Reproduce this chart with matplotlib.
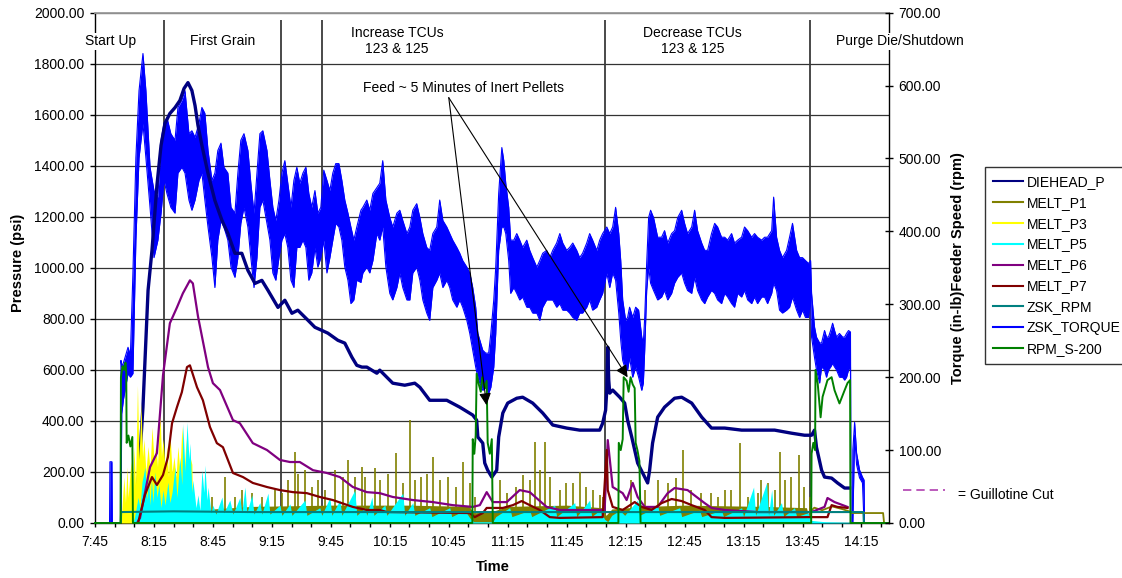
import numpy as np
import matplotlib
matplotlib.use("Agg")
import matplotlib.pyplot as plt
from matplotlib.lines import Line2D

plt.rcParams['font.family'] = ['Liberation Sans', 'DejaVu Sans']

# ---------------- data (time = minutes after 7:45) ----------------
time_labels = ['7:45', '8:15', '8:45', '9:15', '9:45', '10:15', '10:45', '11:15',
               '11:45', '12:15', '12:45', '13:15', '13:45', '14:15']
phase_times = [35.1, 94.6, 115.4, 259.3, 363.6]
phase_names = ['Start Up', 'First Grain', 'Increase TCUs\n123 & 125',
               'Decrease TCUs\n123 & 125', 'Purge Die/Shutdown']
phase_label_t = [8.1, 65.1, 153.6, 304.1, 409.3]

# DIEHEAD_P (psi)
diehead_t = [20.3, 22.4, 24.4, 27.0, 29.0, 31.5, 33.6, 35.6, 38.1, 40.7,
             43.2, 45.3, 47.3, 49.3, 50.9, 52.4, 54.4, 57.5, 61.0, 64.6,
             67.6, 71.2, 74.7, 77.8, 81.4, 84.9, 88.0, 93.1, 96.6, 100.2,
             103.2, 108.3, 111.9, 115.4, 118.5, 123.6, 127.1, 130.7, 133.2, 135.8,
             138.3, 143.4, 144.9, 151.5, 157.6, 162.7, 165.3, 170.3, 179.0, 185.6,
             192.2, 194.2, 194.8, 197.3, 198.3, 199.8, 201.9, 203.4, 204.4, 205.4,
             207.5, 210.0, 214.6, 217.6, 222.7, 227.8, 232.9, 240.0, 246.6, 253.2,
             256.8, 258.3, 259.8, 260.4, 260.9, 261.4, 261.9, 263.4, 267.0, 269.5,
             271.0, 273.1, 276.1, 279.7, 281.2, 282.2, 283.7, 286.3, 289.8, 294.9,
             298.5, 303.6, 308.7, 313.7, 320.4, 329.0, 337.1, 345.8, 354.4, 361.0,
             364.6, 366.1, 367.1, 369.7, 371.2, 374.8, 377.8, 381.4, 383.9]
diehead_p = [12, 207, 454, 912, 1069, 1323, 1480, 1566, 1605, 1628,
             1656, 1703, 1726, 1695, 1636, 1558, 1480, 1370, 1264, 1186,
             1135, 1057, 1057, 990, 939, 951, 912, 845, 873, 822,
             834, 795, 767, 755, 744, 716, 705, 650, 618, 611,
             611, 587, 599, 548, 540, 548, 532, 481, 481, 454,
             423, 403, 337, 313, 235, 207, 180, 196, 207, 337,
             431, 470, 489, 493, 470, 431, 384, 372, 364, 364,
             364, 391, 442, 521, 689, 560, 509, 521, 493, 470,
             403, 337, 235, 180, 157, 207, 313, 415, 454, 489,
             493, 470, 415, 372, 372, 364, 364, 364, 352, 344,
             344, 364, 297, 207, 180, 176, 157, 137, 137]

# MELT_P1 (psi): dense base band + spikes + low tail line
p1_base_t = [52.0, 55.0, 60.0, 80.0, 120.0, 160.0, 190.0, 193.0, 202.0, 210.0,
             240.0, 258.0, 260.0, 263.0, 280.0, 300.0, 340.0, 362.0, 364.0]
p1_base = [0, 35, 55, 65, 70, 70, 65, 40, 45, 65,
           70, 60, 30, 55, 65, 70, 65, 60, 0]
p1_tail_t = [364.0, 366.0, 370.0, 375.0, 380.0, 384.0, 385.0, 401.0, 401.5]
p1_tail = [45, 60, 50, 65, 55, 45, 39, 39, 0]
p1_spike_t = [59.3, 66.1, 71.2, 74.6, 79.7, 84.8, 88.1, 91.5, 94.9, 98.3,
              101.7, 103.4, 106.8, 110.2, 113.5, 117.0, 122.0, 126.3, 128.8, 132.2,
              135.6, 137.3, 142.4, 144.9, 149.1, 153.4, 156.8, 160.2, 162.7, 166.1,
              168.7, 172.0, 175.4, 179.7, 183.9, 187.3, 190.7, 193.2, 205.9, 209.4,
              214.4, 217.8, 221.2, 223.7, 226.3, 228.8, 231.4, 236.5, 239.9, 243.2,
              246.6, 250.0, 253.4, 256.8, 258.5, 272.9, 279.7, 286.4, 291.5, 295.8,
              299.2, 303.4, 308.5, 313.6, 316.9, 320.4, 323.8, 328.0, 332.2, 337.3,
              339.0, 342.4, 345.8, 348.3, 350.9, 354.3, 358.4, 361.0, 363.6]
p1_spike = [103, 181, 103, 129, 116, 103, 77, 129, 116, 168,
            279, 194, 207, 142, 168, 129, 207, 181, 247, 181,
            220, 181, 214, 168, 194, 273, 155, 403, 168, 181,
            194, 259, 168, 181, 142, 240, 155, 103, 168, 116,
            142, 188, 168, 318, 207, 318, 181, 129, 155, 155,
            201, 142, 129, 110, 103, 168, 129, 168, 155, 175,
            286, 129, 116, 116, 103, 129, 129, 314, 103, 116,
            168, 155, 129, 279, 168, 181, 266, 142, 103]

# MELT_P3 (psi)
p3_t = [13.2, 13.7, 14.7, 15.5, 16.3, 16.8, 18.3, 19.1, 19.8, 20.6,
        21.6, 22.4, 23.4, 24.2, 24.9, 25.9, 27.0, 28.0, 29.0, 30.0,
        31.0, 31.8, 32.5, 33.1, 33.8, 34.6, 35.6, 36.6, 37.4, 38.1,
        39.2, 40.2, 41.2, 42.2, 43.2, 44.2, 45.3, 46.3, 47.3, 48.3,
        49.3, 49.8]
p3 = [0, 60, 180, 80, 220, 100, 240, 120, 300, 150,
      540, 250, 470, 260, 330, 200, 300, 210, 376, 250,
      310, 220, 350, 440, 260, 330, 220, 300, 180, 360,
      200, 260, 180, 300, 200, 380, 190, 330, 160, 260,
      230, 0]

# MELT_P5 (psi)
p5_t = [19.3, 20.3, 21.9, 22.9, 23.9, 25.4, 26.4, 27.2, 28.0, 28.7,
        29.5, 30.5, 31.5, 32.5, 33.6, 34.6, 35.6, 37.1, 38.1, 39.2,
        40.7, 41.7, 43.2, 44.2, 44.7, 45.8, 46.8, 47.8, 48.3, 49.3,
        49.8, 51.4, 52.4, 53.4, 54.4, 55.4, 55.9, 57.0, 57.5, 59.0,
        60.0, 61.5, 64.6, 65.6, 68.6, 70.2, 73.7, 74.7, 76.3, 77.3,
        79.8, 80.9, 83.9, 84.9, 88.0, 89.0, 94.1, 95.1, 99.2, 100.2,
        106.8, 107.8, 114.4, 115.4, 119.5, 120.5, 124.6, 125.6, 132.2, 133.2,
        137.3, 138.3, 140.9, 141.9, 147.5, 148.5, 156.6, 157.6, 161.7, 162.7,
        170.3, 171.4, 180.5, 181.5, 188.1, 190.7, 192.7, 202.4, 203.9, 211.0,
        212.1, 221.2, 222.2, 233.9, 234.9, 244.1, 245.1, 251.7, 252.7, 256.8,
        259.3, 260.9, 262.9, 267.0, 269.5, 276.1, 277.1, 282.2, 286.3, 287.3,
        297.5, 298.5, 307.6, 308.7, 318.8, 319.8, 329.0, 330.0, 335.1, 336.1,
        341.7, 342.7, 344.3, 345.3, 349.3, 350.4, 355.9, 357.0, 362.6, 364.6,
        371.2, 383.9, 384.4]
p5 = [0, 30, 100, 60, 160, 219, 90, 180, 70, 170,
      80, 200, 100, 150, 60, 130, 70, 160, 80, 120,
      219, 100, 258, 150, 391, 200, 395, 250, 313, 120,
      168, 60, 110, 50, 207, 120, 227, 90, 141, 40,
      70, 35, 102, 40, 90, 35, 100, 40, 141, 40,
      110, 35, 80, 35, 117, 35, 70, 30, 75, 30,
      90, 30, 60, 30, 100, 30, 90, 30, 129, 30,
      60, 30, 102, 30, 70, 30, 117, 30, 80, 30,
      60, 25, 60, 25, 50, 20, 5, 5, 25, 60,
      25, 50, 25, 70, 25, 80, 25, 90, 25, 50,
      15, 5, 30, 50, 30, 90, 30, 50, 70, 30,
      60, 25, 50, 25, 50, 25, 60, 25, 141, 30,
      157, 30, 130, 30, 80, 25, 60, 25, 40, 10,
      5, 3, 0]

# MELT_P6 (psi)
p6_t = [21.4, 22.9, 28.0, 31.5, 34.6, 38.1, 41.7, 44.7, 48.3, 49.8,
        52.4, 57.5, 60.0, 63.6, 70.2, 73.7, 80.3, 87.5, 94.1, 99.2,
        104.2, 110.9, 118.0, 124.6, 131.2, 138.3, 144.9, 151.5, 161.7, 171.9,
        182.0, 192.2, 195.8, 199.3, 202.4, 209.5, 216.1, 221.2, 229.8, 236.5,
        259.3, 260.9, 263.4, 268.5, 270.5, 273.6, 276.1, 279.7, 286.3, 291.4,
        294.9, 301.5, 310.2, 313.7, 320.4, 337.1, 364.6, 371.2, 372.7, 376.3, 382.9]
p6 = [0, 20, 219, 274, 579, 783, 845, 900, 951, 939,
      810, 611, 548, 521, 403, 391, 313, 286, 247, 239,
      239, 207, 196, 180, 141, 121, 117, 102, 90, 82,
      70, 63, 70, 121, 82, 82, 129, 121, 63, 51,
      51, 325, 141, 117, 90, 157, 102, 63, 63, 117,
      137, 129, 78, 59, 51, 43, 43, 63, 98, 82, 63]

# MELT_P7 (psi)
p7_t = [21.9, 25.4, 29.0, 31.5, 34.6, 37.1, 39.2, 41.7, 44.2, 46.8,
        48.3, 51.9, 54.9, 58.5, 62.0, 65.1, 70.2, 75.3, 80.3, 87.5,
        94.1, 100.7, 107.8, 114.4, 121.0, 131.2, 138.3, 144.9, 148.5, 190.7,
        193.2, 197.3, 199.3, 207.5, 212.6, 217.1, 221.2, 226.3, 231.4, 236.5,
        258.3, 260.4, 260.9, 263.4, 268.5, 274.6, 278.2, 283.2, 288.3, 293.4,
        298.5, 303.6, 310.2, 313.7, 320.4, 362.6, 372.7, 374.8, 377.8, 382.9]
p7 = [0, 110, 180, 149, 188, 258, 391, 454, 513, 611,
      618, 532, 481, 376, 313, 297, 196, 180, 157, 141,
      129, 121, 117, 102, 90, 63, 51, 51, 43, 39,
      23, 39, 59, 59, 70, 86, 70, 51, 23, 20,
      23, 286, 129, 63, 51, 82, 63, 51, 78, 94,
      86, 70, 51, 23, 20, 23, 23, 70, 63, 59]

# ZSK_RPM (right axis)
zsk_rpm_t = [13.1, 13.3, 40.0, 80.0, 120.0, 160.0, 200.0, 240.0, 280.0, 320.0, 360.0, 391.0, 391.2]
zsk_rpm = [0, 15, 16, 15, 15, 15, 15, 15, 15, 15, 15, 15, 0]

# ZSK_TORQUE (right axis) - oscillation band: upper / lower envelope
torque_t = [7.4, 7.6, 8.6, 8.8, 13.0, 13.2, 13.6, 14.5, 16.8, 18.0,
            19.3, 20.8, 22.4, 24.4, 25.9, 28.0, 30.0, 32.0, 33.6, 35.1,
            36.6, 38.6, 40.7, 42.2, 44.2, 45.8, 47.8, 49.3, 50.9, 52.9,
            54.4, 55.9, 57.5, 59.5, 61.0, 62.5, 64.1, 65.6, 67.6, 69.2,
            71.2, 72.7, 74.2, 75.8, 77.8, 79.3, 80.9, 82.4, 83.9, 85.4,
            87.5, 89.0, 90.5, 92.0, 93.6, 95.1, 96.6, 98.1, 99.7, 101.2,
            102.7, 104.2, 105.8, 107.3, 108.8, 110.3, 111.9, 113.4, 114.9, 116.4,
            118.0, 119.5, 121.0, 122.5, 124.1, 125.6, 127.1, 128.7, 130.2, 131.7,
            133.2, 135.3, 136.3, 138.3, 139.8, 141.4, 143.4, 144.9, 146.4, 148.0,
            150.0, 151.5, 153.6, 155.1, 156.6, 158.7, 160.2, 161.7, 163.7, 165.3,
            166.8, 168.8, 170.3, 171.9, 173.9, 175.4, 177.0, 179.0, 180.5, 182.0,
            184.1, 185.6, 187.1, 189.2, 190.7, 192.2, 193.7, 194.8, 195.8, 197.3,
            198.8, 200.3, 201.4, 202.9, 203.9, 205.4, 207.0, 208.0, 209.0, 210.5,
            211.5, 213.1, 214.6, 216.1, 217.6, 219.7, 221.2, 222.7, 224.8, 226.3,
            227.8, 229.8, 231.4, 232.9, 234.9, 236.5, 238.0, 240.0, 241.5, 243.1,
            245.1, 246.6, 248.1, 250.2, 251.7, 253.2, 255.3, 256.8, 258.3, 260.4,
            261.9, 263.4, 264.9, 266.5, 267.5, 268.5, 270.0, 271.0, 272.0, 273.6,
            275.1, 276.6, 278.2, 279.0, 279.7, 280.7, 281.7, 282.7, 284.2, 286.3,
            288.3, 289.8, 291.4, 293.4, 294.9, 296.5, 298.5, 300.0, 301.5, 303.6,
            305.1, 306.6, 308.7, 310.2, 311.7, 313.7, 315.3, 316.8, 318.8, 320.4,
            321.9, 323.9, 325.4, 327.0, 329.0, 330.5, 332.1, 334.1, 335.6, 337.1,
            339.2, 340.7, 342.2, 344.3, 345.3, 346.8, 348.3, 349.8, 351.9, 353.4,
            354.9, 357.0, 358.5, 360.0, 361.5, 363.1, 364.1, 364.6, 366.1, 367.1,
            368.7, 369.7, 371.2, 372.2, 373.2, 374.3, 375.3, 376.3, 377.3, 378.8,
            380.4, 381.4, 382.4, 383.4, 384.4, 384.6, 385.4, 385.6, 386.5, 387.5,
            389.0, 390.5, 391.3, 391.5]
torque_hi = [0, 84, 84, 0, 0, 223, 215, 220, 241, 230,
             343, 501, 593, 644, 593, 488, 456, 447, 525, 548,
             556, 534, 525, 570, 580, 593, 534, 538, 529, 548,
             570, 562, 511, 470, 480, 511, 521, 488, 480, 433,
             425, 480, 525, 534, 511, 466, 425, 480, 534, 538,
             511, 470, 433, 415, 443, 480, 497, 466, 433, 470,
             488, 466, 480, 488, 452, 433, 456, 425, 433, 484,
             470, 456, 480, 493, 493, 470, 443, 425, 406, 388,
             406, 429, 433, 443, 429, 452, 460, 466, 497, 443,
             419, 406, 425, 429, 415, 397, 406, 429, 438, 419,
             397, 378, 374, 397, 406, 443, 415, 406, 397, 388,
             378, 370, 360, 351, 343, 323, 296, 260, 251, 237,
             233, 233, 260, 306, 351, 452, 515, 497, 466, 433,
             388, 388, 397, 388, 378, 388, 374, 364, 351, 360,
             370, 374, 364, 374, 384, 397, 384, 374, 378, 384,
             374, 364, 370, 384, 397, 388, 374, 388, 397, 406,
             397, 406, 433, 397, 360, 306, 278, 282, 296, 282,
             296, 292, 255, 247, 282, 356, 419, 429, 419, 392,
             392, 401, 384, 397, 401, 419, 429, 411, 397, 406,
             429, 401, 384, 374, 374, 397, 411, 406, 392, 392,
             388, 397, 384, 388, 392, 406, 401, 392, 397, 392,
             388, 392, 392, 401, 447, 392, 374, 364, 374, 392,
             411, 374, 364, 364, 360, 356, 360, 315, 269, 255,
             247, 247, 264, 255, 255, 264, 274, 264, 255, 260,
             255, 255, 260, 264, 262, 0, 0, 100, 138, 96,
             73, 63, 59, 0]
torque_lo = [0, 0, 0, 0, 0, 0, 150, 170, 205, 200,
             205, 388, 501, 548, 501, 433, 364, 388, 425, 470,
             452, 433, 425, 480, 488, 480, 443, 429, 443, 470,
             480, 443, 406, 364, 323, 388, 415, 406, 388, 351,
             337, 364, 411, 433, 406, 364, 323, 364, 433, 443,
             411, 388, 343, 333, 364, 388, 397, 378, 333, 323,
             378, 378, 388, 378, 333, 343, 378, 351, 364, 388,
             343, 364, 388, 411, 406, 388, 351, 333, 301, 306,
             333, 330, 343, 351, 343, 360, 397, 388, 406, 351,
             315, 306, 323, 343, 323, 306, 306, 343, 351, 333,
             306, 288, 278, 323, 333, 343, 323, 333, 323, 306,
             296, 306, 296, 278, 260, 237, 214, 200, 192, 182,
             186, 178, 186, 214, 260, 374, 406, 406, 397, 360,
             315, 323, 315, 306, 310, 296, 296, 288, 288, 278,
             296, 306, 306, 306, 296, 301, 292, 292, 288, 282,
             278, 288, 288, 296, 306, 292, 296, 306, 315, 343,
             323, 343, 333, 288, 251, 223, 210, 210, 227, 200,
             214, 200, 182, 192, 237, 319, 351, 329, 319, 306,
             310, 319, 306, 315, 329, 337, 343, 329, 319, 315,
             337, 319, 306, 301, 310, 319, 315, 306, 301, 315,
             310, 301, 296, 315, 310, 319, 306, 301, 310, 301,
             310, 310, 301, 315, 329, 319, 292, 288, 292, 296,
             310, 292, 282, 292, 282, 282, 310, 255, 227, 210,
             192, 214, 210, 200, 210, 214, 219, 214, 210, 200,
             200, 196, 200, 210, 214, 0, 0, 0, 120, 80,
             62, 55, 0, 0]

# RPM_S-200 feeder speed (right axis)
feed_t = [0, 13.0, 13.2, 14.0, 14.8, 15.5, 15.9, 16.1, 17.0, 18.0, 19.0, 19.3,
          192.0, 192.2, 193.0, 193.7, 194.2, 195.3, 196.3, 197.0, 198.3, 199.3, 199.8, 200.9, 201.9, 202.4,
          266.3, 266.5, 267.5, 268.5, 269.0, 270.5, 271.5, 272.5, 273.6, 274.6, 275.1, 276.0, 277.0, 277.6,
          364.4, 364.6, 365.5, 366.4, 366.6, 367.7, 369.2, 370.2, 372.7, 374.8, 376.3, 378.8, 381.4, 382.9,
          384.2, 384.4, 404.0]
feed = [0, 0, 200, 215, 210, 220, 205, 110, 120, 105, 118, 0,
        0, 115, 95, 120, 205, 190, 180, 200, 185, 195, 110, 95, 115, 0,
        0, 110, 100, 115, 200, 195, 180, 200, 190, 185, 110, 100, 85, 0,
        0, 95, 110, 100, 210, 192, 145, 173, 196, 200, 182, 164, 182, 192,
        196, 0, 0]

series_names = ['DIEHEAD_P', 'MELT_P1', 'MELT_P3', 'MELT_P5', 'MELT_P6',
                'MELT_P7', 'ZSK_RPM', 'ZSK_TORQUE', 'RPM_S-200']
series_colors = ['#000080', '#808000', '#FFFF00', '#00FFFF', '#800080',
                 '#800000', '#008080', '#0000FF', '#008000']
C = dict(zip(series_names, series_colors))

FS = 10
FSB = 10.5

# ---------------- figure ----------------
W, H = 1122, 578
fig = plt.figure(figsize=(W / 100, H / 100), dpi=100)
ax = fig.add_axes([95 / W, 1 - 523 / H, 794 / W, (523 - 12.7) / H])
ax2 = ax.twinx()
ax.set_xlim(0, 404)
ax.set_ylim(0, 2000)
ax2.set_ylim(0, 700)
R = ax2.transData  # right-axis units, drawn inside the main axes for z-ordering

# grid & phase dividers
ax.set_axisbelow(True)
ax.yaxis.grid(True, color='#333333', lw=0.9)
ax.vlines(phase_times, 0, 1970, colors='#3a3a3a', lw=1.3, zorder=1.5)

# torque band
ax.fill_between(torque_t, torque_lo, torque_hi, color=C['ZSK_TORQUE'], lw=0,
                transform=R, zorder=2)
ax.plot(torque_t, torque_hi, color=C['ZSK_TORQUE'], lw=0.8, transform=R, zorder=2)
ax.plot(torque_t, torque_lo, color=C['ZSK_TORQUE'], lw=0.8, transform=R, zorder=2)

# pressures
ax.plot(diehead_t, diehead_p, color=C['DIEHEAD_P'], lw=2.4, zorder=2.6)
ax.fill_between(p1_base_t, 0, p1_base, color=C['MELT_P1'], lw=0, zorder=2.7)
ax.plot(p1_tail_t, p1_tail, color=C['MELT_P1'], lw=1.3, zorder=2.7)
ax.vlines(p1_spike_t, 0, p1_spike, colors=C['MELT_P1'], lw=1.2, zorder=2.7)
ax.fill_between(p3_t, 0, p3, color=C['MELT_P3'], lw=0, zorder=2.8)
ax.fill_between(p5_t, 0, p5, color=C['MELT_P5'], lw=0, zorder=2.9)
ax.plot(p6_t, p6, color=C['MELT_P6'], lw=1.6, zorder=3.0)
ax.plot(p7_t, p7, color=C['MELT_P7'], lw=1.6, zorder=3.1)
ax.plot(zsk_rpm_t, zsk_rpm, color=C['ZSK_RPM'], lw=1.5, transform=R, zorder=3.2)
ax.plot(feed_t, feed, color=C['RPM_S-200'], lw=1.4, transform=R, zorder=3.3,
        clip_on=False)
ax.set_xlim(0, 404)
ax.set_ylim(0, 2000)

# axes formatting
ax.set_yticks(np.arange(0, 2001, 200))
ax.set_yticklabels([f'{v:.2f}' for v in np.arange(0, 2001, 200)])
ax2.set_yticks(np.arange(0, 701, 100))
ax2.set_yticklabels([f'{v:.2f}' for v in np.arange(0, 701, 100)])
ax.set_xticks(np.arange(0, 391, 30))
ax.set_xticklabels(time_labels)
ax.set_xticks(np.arange(0, 401, 10), minor=True)
ax.tick_params(axis='x', which='both', direction='out', length=3, width=1,
               labelsize=FS, pad=6, colors='black')
ax.tick_params(axis='y', direction='out', length=3.5, width=1, labelsize=FS, pad=4)
ax2.tick_params(axis='y', direction='inout', length=6, width=1, labelsize=FS, pad=4)

ax.spines['right'].set_visible(False)
ax.spines['top'].set_color('#9a9a9a')
ax.spines['top'].set_linewidth(1.3)
ax.spines['left'].set_linewidth(1.0)
ax.spines['bottom'].set_linewidth(1.0)
for s in ['left', 'top', 'bottom']:
    ax2.spines[s].set_visible(False)
ax2.spines['right'].set_linewidth(1.0)

# phase labels (drawn on the twin so they mask the spines)
for tx, name in zip(phase_label_t, phase_names):
    ax2.text(tx, 1888, name, transform=ax.transData, ha='center', va='center',
             fontsize=FS, linespacing=1.2,
             bbox=dict(facecolor='white', edgecolor='none', pad=1.0), zorder=5)

# annotation
ax.annotate('Feed ~ 5 Minutes of Inert Pellets', xy=(187.6, 1706), ha='center',
            va='center', fontsize=FS, zorder=5)
for tip in [(199.2, 462), (271.0, 571)]:
    ax.annotate('', xy=tip, xytext=(180.0, 1667),
                arrowprops=dict(arrowstyle='-|>', color='black', lw=0.8,
                                mutation_scale=18, shrinkA=0, shrinkB=0),
                zorder=5)

# axis titles
fig.text(18 / W, 1 - 263 / H, 'Pressure (psi)', rotation=90, ha='center',
         va='center', fontsize=FSB, fontweight='bold')
fig.text(958 / W, 1 - 268 / H, 'Torque (in-lb)Feeder Speed (rpm)', rotation=90,
         ha='center', va='center', fontsize=FSB, fontweight='bold')
fig.text(493 / W, 1 - 567 / H, 'Time', ha='center', va='center', fontsize=FSB,
         fontweight='bold')

# legend
handles = [Line2D([], [], color=c, lw=1.5) for c in series_colors]
leg = fig.legend(handles, series_names, loc='upper left',
                 bbox_to_anchor=(985 / W, 1 - 167 / H), fontsize=FS,
                 frameon=True, fancybox=False, edgecolor='black',
                 handlelength=2.2, handletextpad=0.25, labelspacing=0.5,
                 borderpad=0.55, borderaxespad=0)
leg.get_frame().set_linewidth(1.0)

# guillotine cut note
fig.add_artist(Line2D([903 / W, 945 / W], [1 - 490 / H, 1 - 490 / H],
                      transform=fig.transFigure, color='#B040B0', lw=1.2,
                      dashes=(5, 3)))
fig.text(958 / W, 1 - 495 / H, '= Guillotine Cut', ha='left', va='center', fontsize=FS)

fig.savefig('out.png', dpi=100)
